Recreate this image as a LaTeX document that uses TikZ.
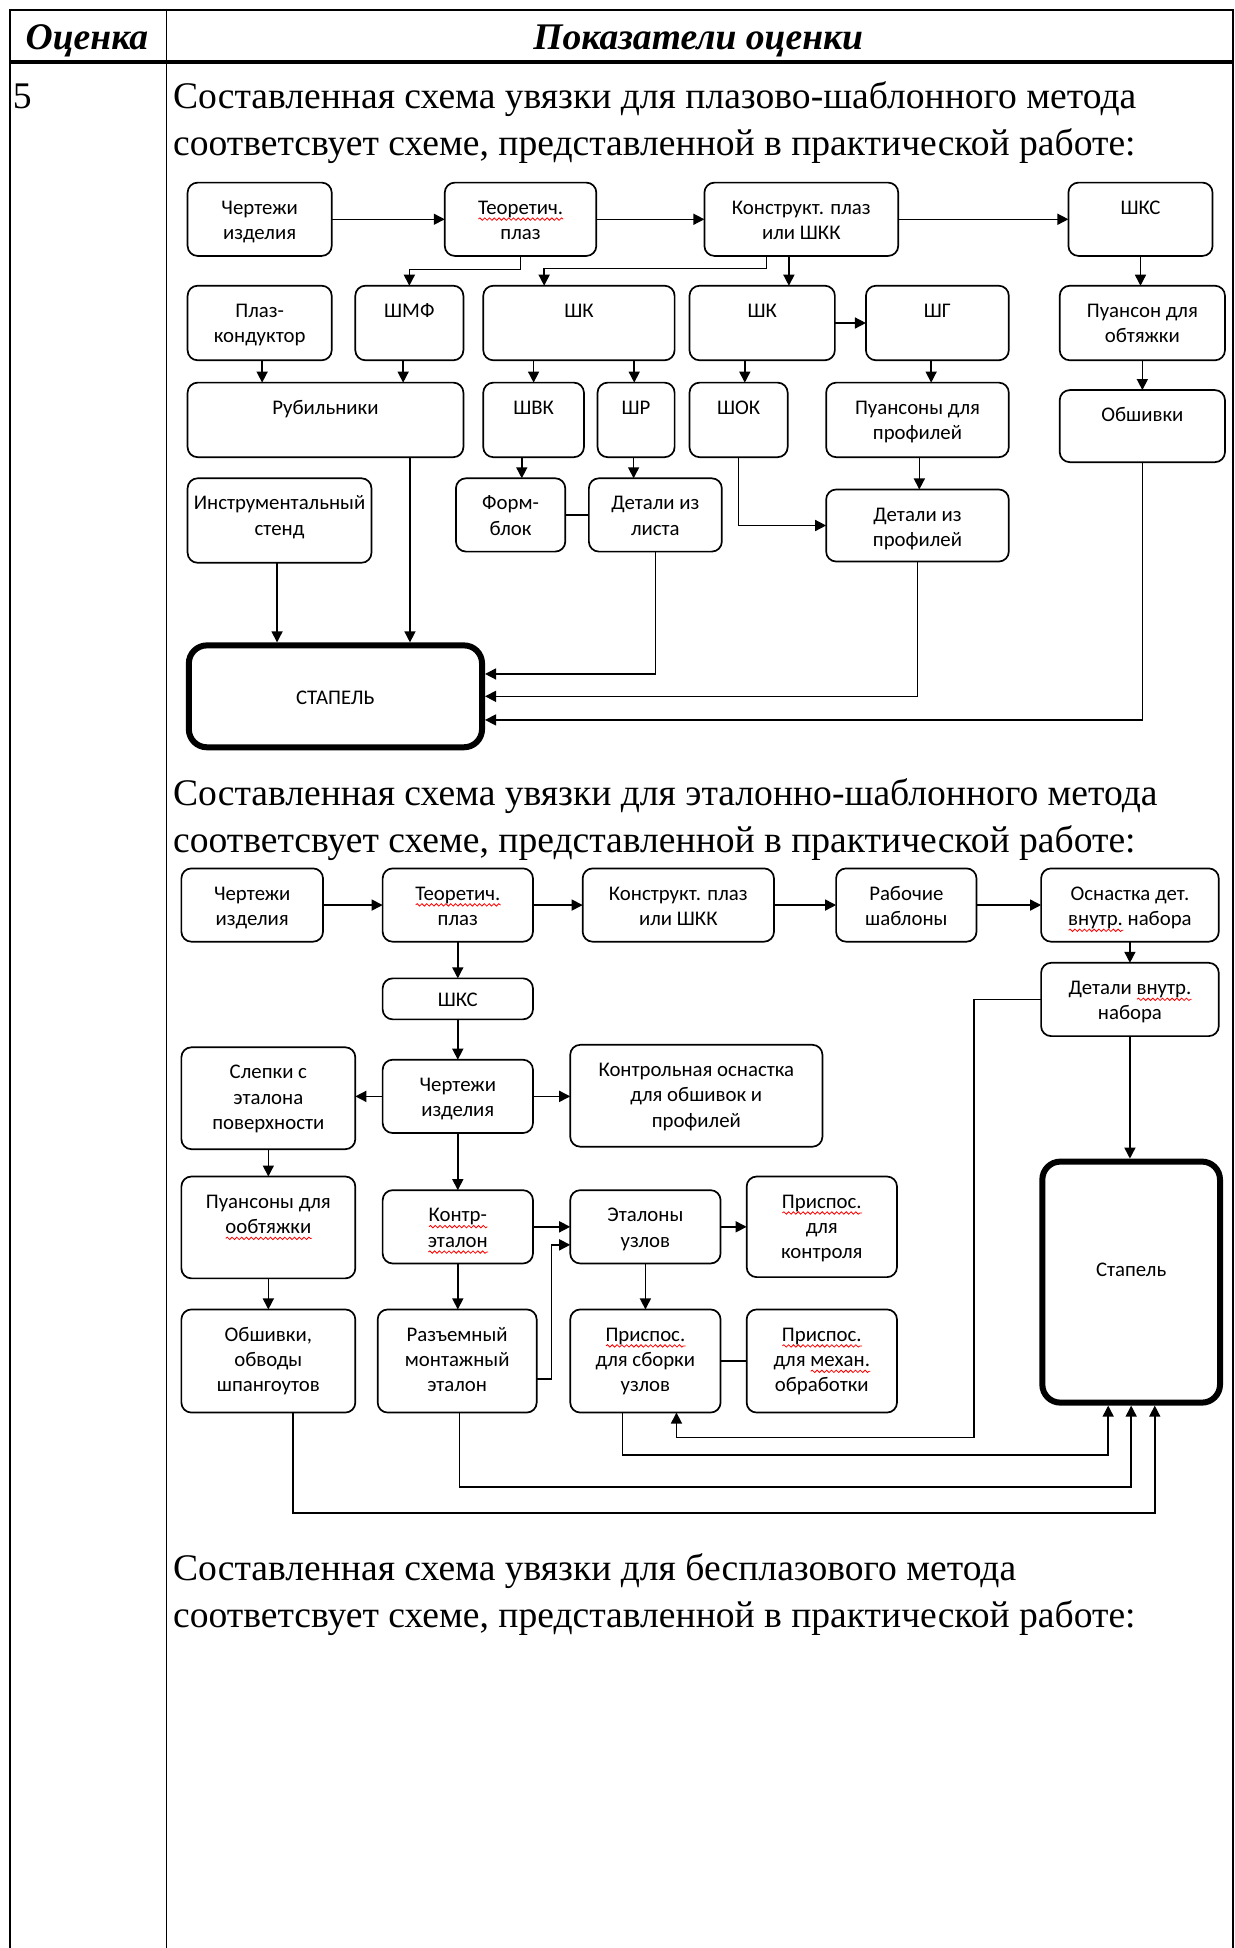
\documentclass[tikz,border=0pt]{standalone}
\usepackage{fontspec}
\setmainfont{Liberation Serif}
\newfontfamily\diagfont{Carlito}
\usetikzlibrary{arrows.meta,calc,decorations.pathmorphing}
\newsavebox\rwbox
\newcommand\rw[1]{\sbox\rwbox{#1}\rlap{\tikz[baseline=0pt,x=1pt,y=1pt]\draw[red,line width=0.4pt,decorate,decoration={snake,amplitude=0.6pt,segment length=2.4pt}] (0,-2.4) -- (\the\wd\rwbox,-2.4);}\usebox\rwbox}
\newcommand\bx[7][]{%
  \node[box,#1,minimum width={(#5-#3)*0.62125pt},minimum height={(#6-#4)*0.62125pt}] (#2) at ({(#3+#5)/2},{(#4+#6)/2}) {};
  \node[btxt,anchor=base] (#2t) at ($(#2.north)+(0,25.5)$) {\begin{tabular}[t]{@{}c@{}}#7\end{tabular}};}
\tikzset{
  box/.style={draw,rounded corners=5pt,line width=0.85pt,inner sep=0pt,outer sep=0pt},
  btxt/.style={inner sep=0pt,font=\diagfont\fontsize{10.4}{12.7}\selectfont},
  arr/.style={line width=0.75pt,-{Triangle[length=5.5pt,width=5.5pt]}},
  ln/.style={line width=0.75pt},
  txt/.style={inner sep=0pt,anchor=base west,font=\fontsize{18.8}{23.6}\selectfont},
  hdr/.style={inner sep=0pt,anchor=base,font=\fontsize{18.8}{23.6}\selectfont\bfseries\itshape},
  stp/.style={draw,rounded corners=9pt,line width=3pt,inner sep=0pt,font=\diagfont\fontsize{10.4}{12.7}\selectfont}
}
\begin{document}
\begin{tikzpicture}[x=0.62125pt,y=-0.62125pt]
\useasboundingbox (0,0) rectangle (994,1568);
% table
\draw[line width=0.9pt] (8,1568) -- (8,8) -- (992.5,8) -- (992.5,1568);
\draw[line width=0.9pt] (134,8) -- (134,1568);
\draw[line width=1.8pt] (8,50) -- (992.5,50);
\node[hdr] (h1) at (70,40) {Оценка};
\node[hdr] (h2) at (562,40) {Показатели оценки};
\node[txt] (five) at (10,87) {5};
\node[txt] (s1a) at (139,87) {Составленная схема увязки для плазово-шаблонного метода};
\node[txt] (s1b) at (139,125) {соответсвует схеме, представленной в практической работе:};
\node[txt] (s2a) at (139,648) {Составленная схема увязки для эталонно-шаблонного метода};
\node[txt] (s2b) at (139,686) {соответсвует схеме, представленной в практической работе:};
\node[txt] (s3a) at (139,1272) {Составленная схема увязки для бесплазового метода};
\node[txt] (s3b) at (139,1310) {соответсвует схеме, представленной в практической работе:};

% ---------- diagram 1
\bx{cht1}{151}{147}{267}{206}{Чертежи\\изделия}
\bx{teo1}{358}{147}{480}{206}{\rw{Теоретич.}\\плаз}
\bx{kon1}{567}{147}{723}{206}{Конструкт. плаз\\или ШКК}
\bx{shks1}{860}{147}{976}{206}{ШКС}
\bx{plk}{151}{230}{267}{290}{Плаз-\\кондуктор}
\bx{shmf}{286}{230}{373}{290}{ШМФ}
\bx{shkA}{389}{230}{543}{290}{ШК}
\bx{shkB}{555}{230}{672}{290}{ШК}
\bx{shg}{697}{230}{812}{290}{ШГ}
\bx{puo}{853}{230}{986}{290}{Пуансон для\\обтяжки}
\bx{rub}{151}{308}{373}{368}{Рубильники}
\bx{shvk}{389}{308}{470}{368}{ШВК}
\bx{shr}{481}{308}{543}{368}{ШР}
\bx{shok}{555}{308}{634}{368}{ШОК}
\bx{pup}{665}{308}{812}{368}{Пуансоны для\\профилей}
\bx{obsh1}{853}{314}{986}{372}{Обшивки}
\bx{ins}{151}{385}{299}{453}{Инструментальный\\стенд}
\bx{fb}{367}{385}{455}{444}{Форм-\\блок}
\bx{dl}{474}{385}{581}{444}{Детали из\\листа}
\bx{dp}{665}{394}{812}{452}{Детали из\\профилей}
\node[stp,minimum width={236*0.62125pt},minimum height={82*0.62125pt}] (stp1) at (270,560.5) {};
\node[btxt,anchor=base] (stp1t) at ($(stp1.center)+(0,6.5)$) {СТАПЕЛЬ};

\draw[arr] (cht1) -- (teo1);
\draw[arr] (teo1) -- (kon1);
\draw[arr] (kon1) -- (shks1);
\draw[arr] (teo1.south) -- ++(0,11) -| (shmf.north);
\draw[arr] ($(kon1.south)+(-28,0)$) -- ++(0,10) -| ($(shkA.north)+(-28,0)$);
\draw[arr] ($(kon1.south)+(-10,0)$) coordinate (k1) -- (k1 |- shkB.north);
\draw[arr] (shks1.south) -- (shks1.south |- puo.north);
\draw[arr] (shkB.east) -- (shkB.east -| shg.west);
\draw[arr] ($(plk.south)+(2,0)$) coordinate (a1) -- (a1 |- rub.north);
\draw[arr] ($(shmf.south)+(-5,0)$) coordinate (a2) -- (a2 |- rub.north);
\draw[arr] (shvk.north |- shkA.south) -- (shvk.north);
\draw[arr] ($(shkA.south)+(44.5,0)$) coordinate (a3) -- (a3 |- shr.north);
\draw[arr] ($(shkB.south)+(-14,0)$) coordinate (a4) -- (a4 |- shok.north);
\draw[arr] ($(shg.south)+(-5,0)$) coordinate (a5) -- (a5 |- pup.north);
\draw[arr] (puo.south) -- (puo.south |- obsh1.north);
\draw[arr] ($(shvk.south)+(-9.5,0)$) coordinate (a6) -- (a6 |- fb.north);
\draw[arr] ($(shr.south)+(-2,0)$) coordinate (a7) -- (a7 |- dl.north);
\draw[ln] (fb.east) -- (fb.east -| dl.west);
\draw[arr] (shok.south) |- (dp.west);
\draw[arr] ($(pup.south)+(1.5,0)$) coordinate (a8) -- (a8 |- dp.north);
\draw[arr] ($(ins.south)+(-2,0)$) coordinate (a9) -- (a9 |- stp1.north);
\draw[arr] ($(rub.south)+(68,0)$) coordinate (a10) -- (a10 |- stp1.north);
\draw[arr] (dl.south) |- ($(stp1.east)+(0,-18)$);
\draw[arr] (dp.south) |- (stp1.east);
\draw[arr] (obsh1.south) |- ($(stp1.east)+(0,19)$);

% ---------- diagram 2
\bx{cht2}{146}{699}{260}{758}{Чертежи\\изделия}
\bx{teo2}{308}{699}{429}{758}{\rw{Теоретич.}\\плаз}
\bx{kon2}{469}{699}{623}{758}{Конструкт. плаз\\или ШКК}
\bx{rab}{673}{699}{786}{758}{Рабочие\\шаблоны}
\bx{osn}{838}{699}{981}{758}{Оснастка дет.\\\rw{внутр.} набора}
\node[box,minimum width={121*0.62125pt},minimum height={33*0.62125pt}] (shks2) at (368.5,804) {};
\node[btxt,anchor=base] (shks2t) at ($(shks2.center)+(0,6.5)$) {ШКС};
\bx{cht3}{308}{853}{429}{912}{Чертежи\\изделия}
\bx{dvn}{838}{775}{981}{834}{Детали \rw{внутр.}\\набора}
\bx{slp}{146}{843}{286}{925}{Слепки с\\эталона\\поверхности}
\bx{kos}{459}{841}{662}{923}{Контрольная оснастка\\для обшивок и\\профилей}
\bx{pun2}{146}{947}{286}{1029}{Пуансоны для\\\rw{ообтяжки}}
\bx{kte}{308}{958}{429}{1017}{\rw{Контр-}\\\rw{эталон}}
\bx{etu}{459}{958}{580}{1017}{Эталоны\\узлов}
\bx{pkn}{601}{947}{722}{1028}{\rw{Приспос.}\\для\\контроля}
\bx{obs2}{146}{1054}{286}{1137}{Обшивки,\\обводы\\шпангоутов}
\bx{raz}{304}{1054}{432}{1137}{Разъемный\\монтажный\\эталон}
\bx{psb}{459}{1054}{580}{1137}{\rw{Приспос.}\\для сборки\\узлов}
\bx{pmh}{601}{1054}{722}{1137}{\rw{Приспос.}\\для \rw{механ.}\\обработки}
\node[stp,minimum width={143*0.62125pt},minimum height={194*0.62125pt}] (stp2) at (910.5,1032) {};
\node[btxt,anchor=base] (stp2t) at ($(stp2.north)+(0,95)$) {Стапель};

\draw[arr] (cht2) -- (teo2);
\draw[arr] (teo2) -- (kon2);
\draw[arr] (kon2) -- (rab);
\draw[arr] (rab) -- (osn);
\draw[arr] (teo2.south) -- (teo2.south |- shks2.north);
\draw[arr] (shks2.south) -- (shks2.south |- cht3.north);
\draw[arr] (osn.south) -- (osn.south |- dvn.north);
\draw[arr] (cht3.west) -- (cht3.west -| slp.east);
\draw[arr] (cht3.east) -- (cht3.east -| kos.west);
\draw[arr] (slp.south) -- (slp.south |- pun2.north);
\draw[arr] (cht3.south) -- (cht3.south |- kte.north);
\draw[arr] (kte.east) -- (kte.east -| etu.west);
\draw[arr] (etu.east) -- (etu.east -| pkn.west);
\draw[arr] (pun2.south) -- (pun2.south |- obs2.north);
\draw[arr] (kte.south) -- (kte.south |- raz.north);
\draw[arr] (etu.south) -- (etu.south |- psb.north);
\draw[ln] (psb.east) -- (psb.east -| pmh.west);
\draw[arr] ($(raz.east)+(0,14.5)$) -- ++(12,0) |- ($(etu.west)+(0,14.5)$);
\draw[arr] (dvn.south) -- (dvn.south |- stp2.north);
\draw[arr] (dvn.west) -- ++(-54,0) -- ++(0,352.5) -| ($(psb.south)+(25,0)$);
\draw[arr] ($(psb.south)+(-18.5,0)$) -- ++(0,34) -| ($(stp2.south)+(-18.5,0)$);
\draw[arr] ($(raz.south)+(2,0)$) -- ++(0,60) -| (stp2.south);
\draw[arr] ($(obs2.south)+(20,0)$) -- ++(0,81) -| ($(stp2.south)+(19,0)$);
\end{tikzpicture}
\end{document}
